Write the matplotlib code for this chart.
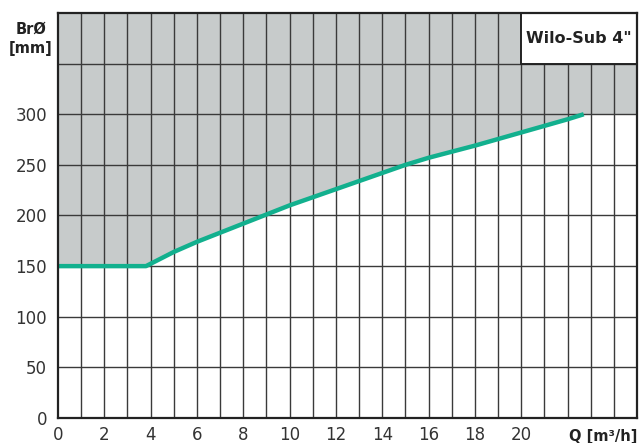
import numpy as np
import matplotlib.pyplot as plt

# Curve: flow Q [m3/h] vs. bore hole diameter [mm]
q = [0, 3.8, 5, 6, 7, 8, 9, 10, 12, 14, 15, 16, 17, 18, 20, 22, 22.7]
d = [150, 150, 164, 174, 183, 192, 201, 210, 226, 242, 250, 257, 263, 269, 282, 295, 300]

x_ticks = [0, 2, 4, 6, 8, 10, 12, 14, 16, 18, 20]
y_ticks = [0, 50, 100, 150, 200, 250, 300]
q_max = 25
d_max = 400

grey = '#c7cbcb'
teal = '#12b08e'
grid_col = '#3a3a3a'

plt.rcParams['font.family'] = ['DejaVu Sans']

fig = plt.figure(figsize=(6.4, 4.43), dpi=100)
ax = fig.add_axes([58 / 640, 25 / 443, 579 / 640, 405 / 443])

# grey region above the curve
ax.fill_between(np.append(q, q_max), np.append(d, d[-1]), d_max,
                color=grey, lw=0, zorder=1)

# grid
for xv in range(1, q_max):
    ax.axvline(xv, color=grid_col, lw=1.0, zorder=2)
for yv in range(50, d_max, 50):
    ax.axhline(yv, color=grid_col, lw=1.0, zorder=2)

# curve
ax.plot(q, d, color=teal, lw=3.2, solid_capstyle='butt', zorder=3)

# title box
ax.add_patch(plt.Rectangle((20, 350), 5, 50, facecolor='white',
                           edgecolor='#222222', lw=1.4, zorder=4))
ax.text(22.5, 375, 'Wilo-Sub 4"', ha='center', va='center',
        fontsize=11.5, fontweight='bold', color='#222222', zorder=5)

ax.set_xlim(0, q_max)
ax.set_ylim(0, d_max)
ax.set_xticks(x_ticks)
ax.set_yticks(y_ticks)
ax.tick_params(length=0, labelsize=12, colors='#333333', pad=6)
ax.tick_params(axis='y', pad=8)
for s in ax.spines.values():
    s.set_linewidth(1.6)
    s.set_color('#222222')
    s.set_zorder(6)

fig.text(31 / 640, 1 - 39 / 443, 'BrØ\n[mm]', ha='center', va='center',
         fontsize=10.5, fontweight='bold', color='#222222', linespacing=1.4)
fig.text(637 / 640, 1 - 437 / 443, 'Q [m³/h]', ha='right', va='center',
         fontsize=10.5, fontweight='bold', color='#222222')

fig.savefig('out.png', dpi=100)
